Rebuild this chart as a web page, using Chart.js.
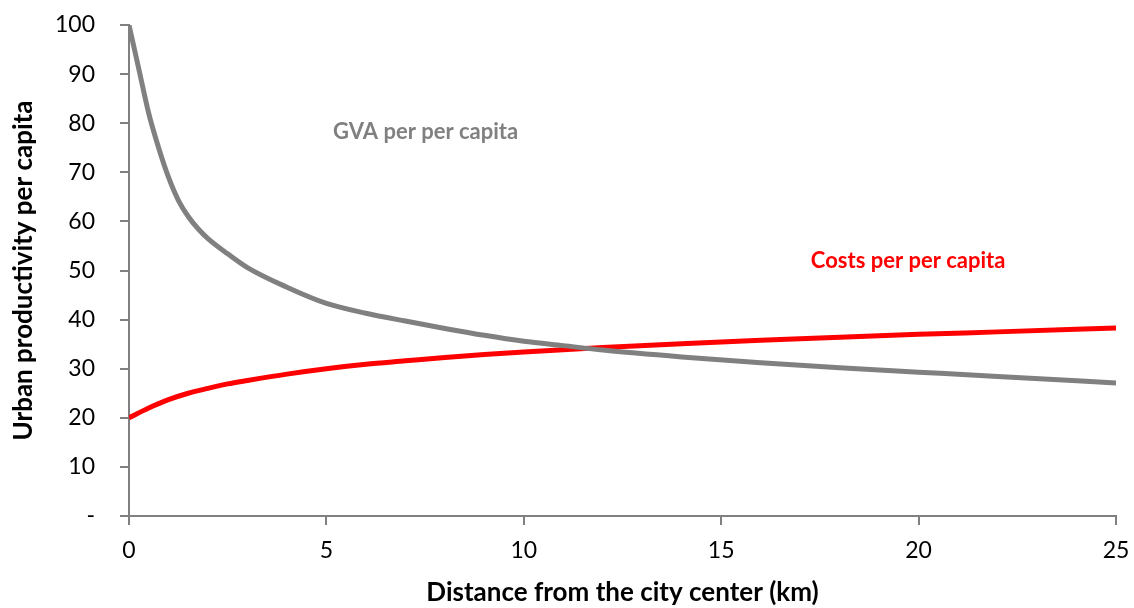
<!DOCTYPE html>
<html>
<head>
<meta charset="utf-8">
<script src="https://cdn.jsdelivr.net/npm/chart.js@4"></script>
<style>
  body { margin: 0; background: #fff; }
  #wrap { width: 1134px; height: 608px; }
</style>
</head>
<body>
<div id="wrap"><canvas id="productivityChart" width="1134" height="608"></canvas></div>
<script>
// --- DATA ---
const gvaKm = [0, 0.25, 0.5, 0.75, 1, 1.25, 1.5, 1.75, 2, 2.5, 3, 4, 5, 6, 7, 8, 9, 10, 11, 12, 14, 16, 18, 20, 22, 25];
const gvaValues = [100, 91, 82, 75, 69, 64.3, 61, 58.5, 56.5, 53.4, 50.6, 46.6, 43.3, 41.3, 39.7, 38.2, 36.8, 35.6, 34.7, 33.8, 32.4, 31.2, 30.2, 29.3, 28.4, 27.1];

const costKm = [0, 0.5, 1, 1.5, 2, 2.5, 3, 4, 5, 6, 7, 8, 9, 10, 12, 14, 16, 18, 20, 22, 25];
const costValues = [20, 22, 23.7, 25, 26, 26.9, 27.6, 28.9, 30, 30.9, 31.6, 32.3, 32.9, 33.4, 34.3, 35.1, 35.8, 36.4, 37, 37.5, 38.3];

const xTicks = [0, 5, 10, 15, 20, 25];
const yTicks = [0, 10, 20, 30, 40, 50, 60, 70, 80, 90, 100];

const seriesLabels = ['GVA per per capita', 'Costs per per capita'];
const labelAnchors = [[5.17, 78.2], [17.27, 52]]; // where the inline series labels sit (km, value)

const FONT = "Lato, 'Open Sans', sans-serif";
const AXIS_GREY = '#808080';

const toPoints = (xs, ys) => xs.map((x, i) => ({ x: x, y: ys[i] }));

// inline series labels, drawn like the text boxes of the original
const seriesLabelPlugin = {
    id: 'seriesLabels',
    afterDatasetsDraw(chart) {
        const { ctx, scales } = chart;
        ctx.save();
        ctx.font = "bold 22px " + FONT;
        ctx.textBaseline = 'middle';
        ctx.textAlign = 'left';
        chart.data.datasets.forEach((ds, i) => {
            const [kx, ky] = labelAnchors[i];
            ctx.fillStyle = ds.borderColor;
            ctx.fillText(seriesLabels[i], scales.x.getPixelForValue(kx), scales.y.getPixelForValue(ky));
        });
        ctx.restore();
    }
};

const ctx = document.getElementById('productivityChart').getContext('2d');
const productivityChart = new Chart(ctx, {
    type: 'scatter',
    data: {
        datasets: [{
            label: seriesLabels[0],
            data: toPoints(gvaKm, gvaValues),
            showLine: true,
            borderColor: '#808080',
            borderWidth: 5,
            pointRadius: 0,
            cubicInterpolationMode: 'monotone'
        }, {
            label: seriesLabels[1],
            data: toPoints(costKm, costValues),
            showLine: true,
            borderColor: '#ff0000',
            borderWidth: 5,
            pointRadius: 0,
            cubicInterpolationMode: 'monotone'
        }]
    },
    options: {
        responsive: false,
        animation: false,
        layout: { padding: { top: 25, right: 18, left: 0, bottom: 0 } },
        plugins: {
            legend: { display: false },
            tooltip: { enabled: false }
        },
        scales: {
            x: {
                type: 'linear',
                min: 0,
                max: 25,
                afterBuildTicks: (scale) => { scale.ticks = xTicks.map(v => ({ value: v })); },
                afterFit: (scale) => {
                    scale.height = 92;
                    scale.paddingLeft = 0;
                    scale.paddingRight = 0;
                },
                border: { color: AXIS_GREY, width: 2 },
                grid: { drawOnChartArea: false, color: AXIS_GREY, tickLength: 9, lineWidth: 2 },
                ticks: { color: '#000', font: { family: FONT, size: 23 }, padding: 12, maxRotation: 0 },
                title: {
                    display: true,
                    text: 'Distance from the city center (km)',
                    color: '#000',
                    font: { family: FONT, size: 26, weight: 'bold' },
                    padding: { top: 9, bottom: 0 }
                }
            },
            y: {
                type: 'linear',
                min: 0,
                max: 100,
                afterBuildTicks: (scale) => { scale.ticks = yTicks.map(v => ({ value: v })); },
                afterFit: (scale) => {
                    scale.width = 129;
                    scale.paddingTop = 0;
                    scale.paddingBottom = 0;
                },
                border: { color: AXIS_GREY, width: 2 },
                grid: { drawOnChartArea: false, color: AXIS_GREY, tickLength: 9, lineWidth: 2 },
                ticks: {
                    color: '#000',
                    font: { family: FONT, size: 23 },
                    padding: 25,
                    callback: (v) => v === 0 ? '-' : v
                },
                title: {
                    display: true,
                    text: 'Urban productivity per capita',
                    color: '#000',
                    font: { family: FONT, size: 26, weight: 'bold' },
                    padding: { top: 8, bottom: 0 }
                }
            }
        }
    },
    plugins: [seriesLabelPlugin]
});
</script>
</body>
</html>
